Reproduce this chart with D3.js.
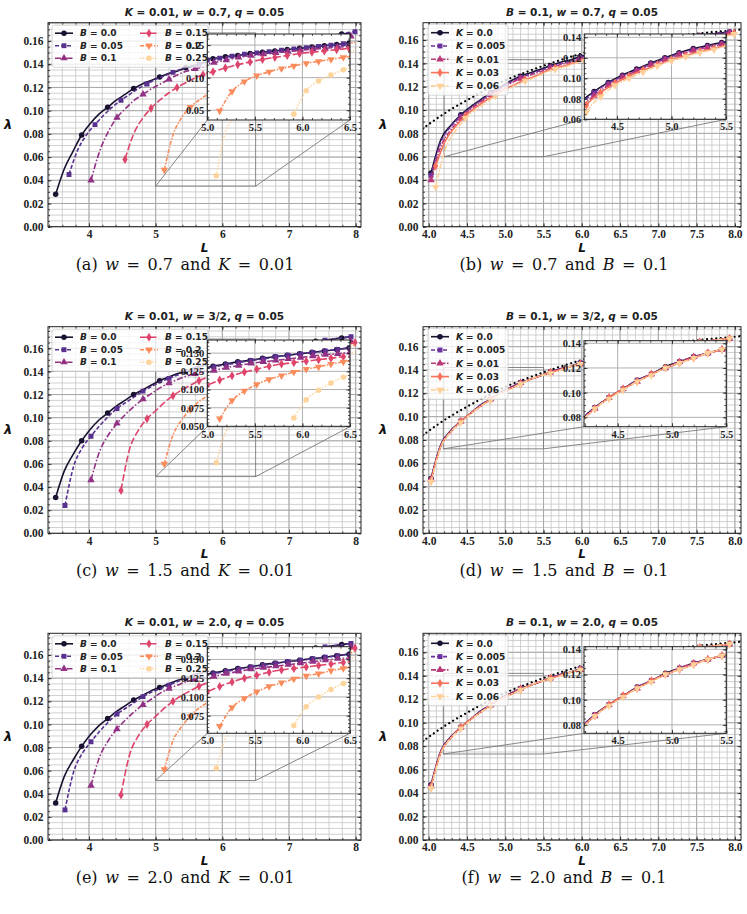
<!DOCTYPE html>
<html>
<head>
<meta charset="utf-8">
<script src="https://cdn.jsdelivr.net/npm/d3@7"></script>
<style>
  body { margin: 0; background: #fff; }
</style>
</head>
<body>
<script>
// ---- sampling grids in L (one per starting point) ----
var gA0  = [3.50,3.63,3.76,3.89,4.02,4.15,4.28,4.41,4.54,4.67,4.80,4.93,5.06,5.19,5.32,5.45,5.58,5.71,5.84,5.97,6.10,6.23,6.36,6.49,6.62,6.75,6.88,7.01,7.14,7.27,7.40,7.53,7.66,7.79,7.92];
var gA05 = [3.70,3.83,3.96,4.09,4.22,4.35,4.48,4.61,4.74,4.87,5.00,5.13,5.26,5.39,5.52,5.65,5.78,5.91,6.04,6.17,6.30,6.43,6.56,6.69,6.82,6.95,7.08,7.21,7.34,7.47,7.60,7.73,7.86,7.99];
var gC05 = [3.64,3.77,3.90,4.03,4.16,4.29,4.42,4.55,4.68,4.81,4.94,5.07,5.20,5.33,5.46,5.59,5.72,5.85,5.98,6.11,6.24,6.37,6.50,6.63,6.76,6.89,7.02,7.15,7.28,7.41,7.54,7.67,7.80,7.93];
var gK   = [4.03,4.16,4.29,4.42,4.55,4.68,4.81,4.94,5.07,5.20,5.33,5.46,5.59,5.72,5.85,5.98,6.11,6.24,6.37,6.50,6.63,6.76,6.89,7.02,7.15,7.28,7.41,7.54,7.67,7.80,7.93];
var gA15 = [4.54,4.67,4.80,4.93,5.06,5.19,5.32,5.45,5.58,5.71,5.84,5.97,6.10,6.23,6.36,6.49,6.62,6.75,6.88,7.01,7.14,7.27,7.40,7.53,7.66,7.79,7.92];
var gC15 = [4.48,4.61,4.74,4.87,5.00,5.13,5.26,5.39,5.52,5.65,5.78,5.91,6.04,6.17,6.30,6.43,6.56,6.69,6.82,6.95,7.08,7.21,7.34,7.47,7.60,7.73,7.86,7.99];
var gB20 = [5.13,5.26,5.39,5.52,5.65,5.78,5.91,6.04,6.17,6.30,6.43,6.56,6.69,6.82,6.95,7.08,7.21,7.34,7.47,7.60,7.73,7.86,7.99];
var gB25 = [5.91,6.04,6.17,6.30,6.43,6.56,6.69,6.82,6.95,7.08,7.21,7.34,7.47,7.60,7.73,7.86,7.99];
var gK03 = [4.09,4.22,4.35,4.48,4.61,4.74,4.87,5.00,5.13,5.26,5.39,5.52,5.65,5.78,5.91,6.04,6.17,6.30,6.43,6.56,6.69,6.82,6.95,7.08,7.21,7.34,7.47,7.60,7.73,7.86,7.99];

// ---- lambda, w = 0.7, K = 0.01 (panel a) ----
var a00 = [0.028,0.050,0.065,0.079,0.089,0.097,0.103,0.109,0.114,0.119,0.123,0.126,0.129,0.132,0.134,0.137,0.139,0.141,0.143,0.145,0.147,0.149,0.151,0.153,0.154,0.156,0.157,0.159,0.160,0.161,0.162,0.164,0.165,0.166,0.167];
var a05 = [0.045,0.066,0.079,0.088,0.096,0.103,0.109,0.114,0.119,0.123,0.127,0.130,0.133,0.136,0.138,0.140,0.142,0.144,0.146,0.148,0.150,0.152,0.153,0.155,0.156,0.158,0.159,0.160,0.162,0.163,0.164,0.165,0.167,0.168];
var a10 = [0.040,0.065,0.082,0.094,0.102,0.109,0.114,0.119,0.123,0.127,0.131,0.134,0.136,0.138,0.140,0.142,0.144,0.145,0.147,0.148,0.150,0.151,0.153,0.154,0.156,0.157,0.158,0.160,0.161,0.163,0.164];
var a15 = [0.058,0.080,0.093,0.102,0.109,0.115,0.120,0.124,0.128,0.131,0.134,0.137,0.139,0.141,0.143,0.145,0.147,0.149,0.150,0.152,0.154,0.155,0.157,0.158,0.160,0.161,0.163];
var a20 = [0.049,0.079,0.094,0.103,0.109,0.114,0.118,0.122,0.125,0.128,0.131,0.134,0.137,0.139,0.142,0.144,0.146,0.148,0.150,0.153,0.155,0.157,0.159];
var a25 = [0.044,0.080,0.095,0.104,0.112,0.118,0.123,0.127,0.131,0.134,0.137,0.140,0.143,0.145,0.148,0.150,0.152];

// ---- w = 3/2, K = 0.01 (panel c) ----
var c00 = [0.031,0.054,0.068,0.080,0.090,0.098,0.104,0.110,0.115,0.120,0.124,0.128,0.132,0.135,0.138,0.140,0.143,0.145,0.147,0.149,0.151,0.153,0.155,0.157,0.158,0.160,0.161,0.162,0.164,0.165,0.166,0.167,0.168,0.169,0.170];
var c05 = [0.024,0.058,0.074,0.084,0.093,0.101,0.108,0.113,0.118,0.123,0.127,0.131,0.134,0.137,0.140,0.142,0.145,0.147,0.149,0.151,0.153,0.155,0.157,0.158,0.160,0.161,0.163,0.164,0.165,0.166,0.167,0.168,0.169,0.170];
var c10 = [0.046,0.071,0.085,0.095,0.103,0.110,0.116,0.121,0.126,0.130,0.133,0.136,0.138,0.140,0.142,0.144,0.146,0.148,0.149,0.151,0.153,0.154,0.156,0.157,0.159,0.160,0.161,0.163,0.164,0.165,0.166];
var c15 = [0.037,0.073,0.089,0.099,0.106,0.113,0.119,0.124,0.128,0.132,0.135,0.137,0.139,0.141,0.143,0.145,0.147,0.149,0.151,0.152,0.154,0.156,0.157,0.159,0.160,0.162,0.163,0.165];
var c20 = [0.060,0.085,0.098,0.107,0.114,0.119,0.124,0.128,0.131,0.135,0.138,0.141,0.143,0.146,0.148,0.150,0.152,0.154,0.156,0.158,0.160,0.161,0.163];
var c25 = [0.061,0.086,0.099,0.109,0.117,0.123,0.128,0.132,0.136,0.139,0.142,0.145,0.148,0.150,0.153,0.155,0.157];

// ---- w = 2.0, K = 0.01 (panel e) ----
var e00 = [0.032,0.055,0.069,0.081,0.091,0.099,0.105,0.111,0.116,0.121,0.125,0.129,0.132,0.135,0.138,0.140,0.143,0.145,0.147,0.149,0.151,0.153,0.155,0.157,0.158,0.160,0.161,0.162,0.163,0.165,0.166,0.167,0.168,0.169,0.170];
var e05 = [0.026,0.059,0.075,0.085,0.094,0.102,0.109,0.114,0.119,0.124,0.128,0.131,0.134,0.137,0.140,0.142,0.145,0.147,0.149,0.151,0.153,0.155,0.157,0.158,0.160,0.161,0.163,0.164,0.165,0.166,0.167,0.168,0.169,0.170];
var e10 = [0.047,0.072,0.086,0.096,0.104,0.111,0.117,0.122,0.127,0.131,0.134,0.137,0.139,0.141,0.143,0.145,0.147,0.149,0.151,0.152,0.154,0.155,0.157,0.158,0.160,0.161,0.162,0.163,0.165,0.166,0.167];
var e15 = [0.039,0.074,0.090,0.100,0.107,0.114,0.120,0.125,0.129,0.133,0.136,0.138,0.140,0.142,0.144,0.146,0.148,0.150,0.152,0.153,0.155,0.157,0.158,0.160,0.161,0.163,0.164,0.166];
var e20 = [0.061,0.086,0.098,0.107,0.114,0.119,0.124,0.128,0.131,0.135,0.138,0.141,0.143,0.146,0.148,0.150,0.152,0.154,0.156,0.158,0.160,0.161,0.163];
var e25 = [0.062,0.087,0.100,0.110,0.118,0.124,0.129,0.133,0.137,0.140,0.143,0.146,0.149,0.151,0.154,0.156,0.158];

// ---- B = 0.1, w = 0.7 (panel b) ----
var b000 = [0.046,0.075,0.087,0.096,0.103,0.109,0.115,0.120,0.125,0.129,0.132,0.135,0.138,0.141,0.143,0.146,0.148,0.150,0.151,0.153,0.155,0.156,0.158,0.159,0.160,0.162,0.163,0.164,0.165,0.166,0.167];
var b005 = [0.044,0.073,0.086,0.095,0.102,0.108,0.114,0.119,0.124,0.128,0.131,0.134,0.137,0.140,0.142,0.145,0.147,0.149,0.151,0.152,0.154,0.156,0.157,0.158,0.160,0.161,0.162,0.164,0.165,0.166,0.167];
var b010 = [0.040,0.069,0.083,0.093,0.101,0.107,0.113,0.118,0.123,0.127,0.130,0.133,0.136,0.139,0.141,0.144,0.146,0.148,0.150,0.151,0.153,0.155,0.156,0.158,0.159,0.160,0.162,0.163,0.164,0.165,0.166];
var b030 = [0.052,0.074,0.086,0.095,0.102,0.108,0.113,0.118,0.122,0.126,0.129,0.133,0.136,0.138,0.141,0.143,0.145,0.147,0.149,0.151,0.152,0.154,0.155,0.157,0.158,0.160,0.161,0.162,0.163,0.164,0.166];
var b060 = [0.034,0.067,0.082,0.093,0.100,0.106,0.112,0.117,0.121,0.125,0.128,0.132,0.135,0.137,0.140,0.142,0.144,0.146,0.148,0.150,0.151,0.153,0.154,0.156,0.157,0.159,0.160,0.161,0.162,0.163,0.165];

// ---- B = 0.1, w = 3/2 and w = 2.0 (panels d, f: curves coincide) ----
var w000 = [0.047,0.076,0.088,0.096,0.103,0.110,0.115,0.121,0.125,0.129,0.132,0.135,0.138,0.141,0.143,0.146,0.148,0.150,0.152,0.153,0.155,0.156,0.158,0.159,0.161,0.162,0.163,0.164,0.165,0.166,0.167];
var w005 = [0.046,0.076,0.088,0.096,0.103,0.110,0.115,0.120,0.125,0.129,0.132,0.135,0.138,0.141,0.143,0.146,0.148,0.150,0.152,0.153,0.155,0.156,0.158,0.159,0.161,0.162,0.163,0.164,0.165,0.166,0.167];
var w010 = [0.046,0.075,0.087,0.096,0.103,0.109,0.115,0.120,0.125,0.129,0.132,0.135,0.138,0.141,0.143,0.145,0.148,0.150,0.151,0.153,0.155,0.156,0.158,0.159,0.160,0.162,0.163,0.164,0.165,0.166,0.167];
var w030 = [0.045,0.075,0.087,0.096,0.103,0.109,0.115,0.120,0.124,0.128,0.132,0.135,0.138,0.140,0.143,0.145,0.147,0.149,0.151,0.153,0.154,0.156,0.157,0.159,0.160,0.161,0.163,0.164,0.165,0.166,0.167];
var w060 = [0.044,0.074,0.087,0.095,0.102,0.109,0.114,0.120,0.124,0.128,0.132,0.135,0.137,0.140,0.143,0.145,0.147,0.149,0.151,0.152,0.154,0.156,0.157,0.158,0.160,0.161,0.162,0.164,0.165,0.166,0.167];

// black dotted reference curve (b, d, f)
var dotL   = [3.92,4.10,4.30,4.50,4.75,5.00,5.25,5.50,5.75,6.00,6.25,6.50,7.00,7.50,8.00,8.08];
var dotLam = [0.084,0.0925,0.101,0.1085,0.1175,0.1255,0.132,0.138,0.1435,0.1485,0.153,0.1565,0.1615,0.1655,0.1685,0.169];

// legend values and tick labels
var bLabels = ["0.0", "0.05", "0.1", "0.15", "0.2", "0.25"];
var kLabels = ["0.0", "0.005", "0.01", "0.03", "0.06"];
var yTicksMain = [0, 0.02, 0.04, 0.06, 0.08, 0.10, 0.12, 0.14, 0.16];
var xTicksB = [4, 5, 6, 7, 8];
var xTicksK = [4.0, 4.5, 5.0, 5.5, 6.0, 6.5, 7.0, 7.5, 8.0];
var xTicksInsetB = [5.0, 5.5, 6.0, 6.5];
var xTicksInsetK = [4.5, 5.0, 5.5];

// ---- styles ----
var styles = {
    B: [
        { color: "#1a1230", dash: null, sym: "circle" },
        { color: "#58308f", dash: "4,2", sym: "square" },
        { color: "#923085", dash: "6,2,1.5,2", sym: "triangle" },
        { color: "#de456c", dash: "7,2.5", sym: "diamond" },
        { color: "#fa8c5c", dash: "4,1.5,1.5,1.5", sym: "down" },
        { color: "#fdd49b", dash: "1.3,1.7", sym: "circle" }
    ],
    K: [
        { color: "#1a1230", dash: null, sym: "circle" },
        { color: "#6b2f9e", dash: "4,2", sym: "square" },
        { color: "#b8387a", dash: "5,1.5,1.5,1.5", sym: "triangle" },
        { color: "#f7735c", dash: null, sym: "diamond" },
        { color: "#fdd09a", dash: "5,1.5,1.5,1.5", sym: "down" }
    ]
};

var serif = "'Liberation Serif', 'DejaVu Serif', serif";
var sans = "'DejaVu Sans', sans-serif";

var width = 747, height = 914;
var svg = d3.select("body").append("svg")
    .attr("width", width)
    .attr("height", height);
var defs = svg.append("defs");

function ticksIn(lo, hi, step) {
    var a = Math.ceil(lo / step - 1e-6), b = Math.floor(hi / step + 1e-6);
    return d3.range(a, b + 1).map(function (i) { return +(i * step).toFixed(6); });
}

function symbolPath(name, size) {
    var t = { circle: d3.symbolCircle, square: d3.symbolSquare, triangle: d3.symbolTriangle,
              diamond: d3.symbolDiamond, down: d3.symbolTriangle }[name];
    return d3.symbol().type(t).size(size)();
}

function drawMarkers(g, pts, st, size) {
    g.selectAll(null).data(pts).join("path")
        .attr("d", symbolPath(st.sym, size))
        .attr("transform", function (d) {
            return "translate(" + d[0] + "," + d[1] + ")" + (st.sym == "down" ? " rotate(180)" : "");
        })
        .attr("fill", st.color);
}

function drawSeries(g, x, y, L, lam, st, every) {
    var pts = d3.zip(L, lam);
    var line = d3.line()
        .x(function (d) { return x(d[0]); })
        .y(function (d) { return y(d[1]); })
        .curve(d3.curveMonotoneX);
    g.append("path").datum(pts)
        .attr("fill", "none")
        .attr("stroke", st.color)
        .attr("stroke-width", 1.6)
        .attr("stroke-dasharray", st.dash)
        .attr("d", line);
    var mk = pts.filter(function (d, i) { return i % every == 0; })
        .map(function (d) { return [x(d[0]), y(d[1])]; });
    drawMarkers(g, mk, st, 24);
}

// ticks pointing inward on all four sides, labels on bottom and left
function drawAxes(g, x, y, box, o) {
    function tidy(sel) {
        sel.select(".domain").remove();
        sel.attr("color", "#222")
            .attr("font-family", serif)
            .attr("font-weight", "bold")
            .attr("font-size", o.fontSize);
        sel.selectAll(".tick line").attr("stroke-width", 0.8);
    }
    var xMin = ticksIn(x.domain()[0], x.domain()[1], o.xMinor);
    var yMin = ticksIn(y.domain()[0], y.domain()[1], o.yMinor);

    g.append("g").attr("transform", "translate(0," + box.bottom + ")")
        .call(d3.axisBottom(x).tickValues(o.xTicks).tickFormat(d3.format(o.xFmt)).tickSize(-3.5).tickPadding(o.padX))
        .call(tidy);
    g.append("g").attr("transform", "translate(0," + box.bottom + ")")
        .call(d3.axisBottom(x).tickValues(xMin).tickFormat("").tickSize(-2)).call(tidy);
    g.append("g").attr("transform", "translate(0," + box.top + ")")
        .call(d3.axisTop(x).tickValues(o.xTicks).tickFormat("").tickSize(-3.5)).call(tidy);
    g.append("g").attr("transform", "translate(0," + box.top + ")")
        .call(d3.axisTop(x).tickValues(xMin).tickFormat("").tickSize(-2)).call(tidy);

    g.append("g").attr("transform", "translate(" + box.left + ",0)")
        .call(d3.axisLeft(y).tickValues(o.yTicks).tickFormat(d3.format(o.yFmt)).tickSize(-3.5).tickPadding(o.padY))
        .call(tidy);
    g.append("g").attr("transform", "translate(" + box.left + ",0)")
        .call(d3.axisLeft(y).tickValues(yMin).tickFormat("").tickSize(-2)).call(tidy);
    g.append("g").attr("transform", "translate(" + box.right + ",0)")
        .call(d3.axisRight(y).tickValues(o.yTicks).tickFormat("").tickSize(-3.5)).call(tidy);
    g.append("g").attr("transform", "translate(" + box.right + ",0)")
        .call(d3.axisRight(y).tickValues(yMin).tickFormat("").tickSize(-2)).call(tidy);

    g.append("rect")
        .attr("x", box.left).attr("y", box.top)
        .attr("width", box.right - box.left).attr("height", box.bottom - box.top)
        .attr("fill", "none").attr("stroke", "#222").attr("stroke-width", 1);
}

function mathText(sel, parts) {
    parts.forEach(function (p) {
        sel.append("tspan").attr("font-style", p[1] ? "italic" : null).text(p[0]);
    });
}

function handle(g, x0, x1, yy, st) {
    g.append("line")
        .attr("x1", x0).attr("x2", x1).attr("y1", yy).attr("y2", yy)
        .attr("stroke", st.color).attr("stroke-width", 1.6)
        .attr("stroke-dasharray", st.dash);
    drawMarkers(g, [[(x0 + x1) / 2, yy]], st, 24);
}

function drawLegend(g, p) {
    var lg = g.append("g");
    var labels = p.kind == "B" ? bLabels : kLabels;
    var lx, ly, bw, bh;
    if (p.kind == "B") { lx = p.left + 4; ly = p.top + 2.5; bw = 156; bh = 42; }
    else { lx = p.left + 5; ly = p.top + 1.5; bw = 80; bh = 71; }
    lg.append("rect")
        .attr("x", lx).attr("y", ly).attr("width", bw).attr("height", bh)
        .attr("rx", 2.5)
        .attr("fill", "#fff").attr("fill-opacity", 0.8)
        .attr("stroke", "#cccccc").attr("stroke-width", 0.8);
    labels.forEach(function (lab, i) {
        var hx, hy;
        if (p.kind == "B") { hx = lx + 3 + Math.floor(i / 3) * 85; hy = ly + 8 + (i % 3) * 12.5; }
        else { hx = lx + 3; hy = ly + 8.5 + i * 13.3; }
        handle(lg, hx, hx + 18, hy, styles[p.kind][i]);
        var t = lg.append("text")
            .attr("x", hx + 25).attr("y", hy + 3.2)
            .attr("font-family", sans).attr("font-weight", "bold").attr("font-size", 9)
            .attr("fill", "#222");
        mathText(t, [[p.kind, true], [" = " + lab, false]]);
    });
}

function drawPanel(p) {
    var x = d3.scaleLinear().domain(p.xDom).range([p.left, p.right]);
    var y = d3.scaleLinear().domain([0, p.yMax]).range([p.bottom, p.top]);
    var g = svg.append("g");

    defs.append("clipPath").attr("id", "clip" + p.id).append("rect")
        .attr("x", p.left).attr("y", p.top)
        .attr("width", p.right - p.left).attr("height", p.bottom - p.top);

    // grid (minor then major)
    var grid = g.append("g");
    grid.selectAll(null).data(ticksIn(p.xDom[0], p.xDom[1], p.xMinor)).join("line")
        .attr("x1", x).attr("x2", x).attr("y1", p.top).attr("y2", p.bottom)
        .attr("stroke", "#c2c2c2").attr("stroke-width", 0.75);
    grid.selectAll(null).data(ticksIn(0, p.yMax, 0.005)).join("line")
        .attr("y1", y).attr("y2", y).attr("x1", p.left).attr("x2", p.right)
        .attr("stroke", "#c2c2c2").attr("stroke-width", 0.75);
    grid.selectAll(null).data(p.xTicks).join("line")
        .attr("x1", x).attr("x2", x).attr("y1", p.top).attr("y2", p.bottom)
        .attr("stroke", "#a8a8a8").attr("stroke-width", 1);
    grid.selectAll(null).data(yTicksMain).join("line")
        .attr("y1", y).attr("y2", y).attr("x1", p.left).attr("x2", p.right)
        .attr("stroke", "#a8a8a8").attr("stroke-width", 1);

    // zoom marker: rectangle + connectors to the inset
    var ins = p.inset;
    var rx0 = x(ins.xDom[0]), rx1 = x(ins.xDom[1]), ry0 = y(ins.yDom[0]), ry1 = y(ins.yDom[1]);
    var mk = g.append("g").attr("stroke", "#7a7a7a").attr("stroke-width", 0.9).attr("fill", "none");
    mk.append("rect").attr("x", rx0).attr("y", ry1).attr("width", rx1 - rx0).attr("height", ry0 - ry1);
    mk.append("line").attr("x1", ins.left).attr("y1", ins.bottom).attr("x2", rx0).attr("y2", ry0);
    mk.append("line").attr("x1", ins.right).attr("y1", ins.bottom).attr("x2", rx1).attr("y2", ry0);

    var plot = g.append("g").attr("clip-path", "url(#clip" + p.id + ")");
    if (p.dotted) {
        plot.append("path").datum(d3.zip(dotL, dotLam))
            .attr("fill", "none").attr("stroke", "#000").attr("stroke-width", 2.2)
            .attr("stroke-linecap", "round").attr("stroke-dasharray", "0.01,4.6")
            .attr("d", d3.line().x(function (d) { return x(d[0]); }).y(function (d) { return y(d[1]); })
                .curve(d3.curveMonotoneX));
    }
    p.series.forEach(function (s, i) {
        drawSeries(plot, x, y, s[0], s[1], styles[p.kind][i], 3);
    });

    drawAxes(g, x, y, p, {
        xTicks: p.xTicks, xFmt: p.xFmt, xMinor: p.xMinor,
        yTicks: yTicksMain, yFmt: ".2f", yMinor: 0.005,
        fontSize: 11.5, padX: 3.3, padY: 4.5
    });

    drawLegend(g, p);

    // inset
    var xi = d3.scaleLinear().domain(ins.xDom).range([ins.left, ins.right]);
    var yi = d3.scaleLinear().domain(ins.yDom).range([ins.bottom, ins.top]);
    defs.append("clipPath").attr("id", "iclip" + p.id).append("rect")
        .attr("x", ins.left).attr("y", ins.top)
        .attr("width", ins.right - ins.left).attr("height", ins.bottom - ins.top);
    var ig = g.append("g");
    ig.append("rect")
        .attr("x", ins.left).attr("y", ins.top)
        .attr("width", ins.right - ins.left).attr("height", ins.bottom - ins.top)
        .attr("fill", "#fff");
    ig.selectAll(null).data(ins.xTicks).join("line")
        .attr("x1", xi).attr("x2", xi).attr("y1", ins.top).attr("y2", ins.bottom)
        .attr("stroke", "#b0b0b0").attr("stroke-width", 1);
    ig.selectAll(null).data(ins.yTicks).join("line")
        .attr("y1", yi).attr("y2", yi).attr("x1", ins.left).attr("x2", ins.right)
        .attr("stroke", "#b0b0b0").attr("stroke-width", 1);
    var iplot = ig.append("g").attr("clip-path", "url(#iclip" + p.id + ")");
    p.series.forEach(function (s, i) {
        drawSeries(iplot, xi, yi, s[0], s[1], styles[p.kind][i], 1);
    });
    drawAxes(ig, xi, yi, ins, {
        xTicks: ins.xTicks, xFmt: ".1f", xMinor: 0.1,
        yTicks: ins.yTicks, yFmt: ins.yFmt, yMinor: ins.yMinor,
        fontSize: 10.5, padX: 3.5, padY: 3
    });

    // labels
    var cx = (p.left + p.right) / 2;
    var title = g.append("text")
        .attr("x", cx).attr("y", p.top - 7)
        .attr("text-anchor", "middle")
        .attr("font-family", sans).attr("font-weight", "bold").attr("font-size", 10.5)
        .attr("fill", "#222");
    mathText(title, p.title);

    g.append("text")
        .attr("x", cx).attr("y", p.bottom + 25)
        .attr("text-anchor", "middle")
        .attr("font-family", sans).attr("font-weight", "bold").attr("font-style", "italic")
        .attr("font-size", 12).attr("fill", "#111")
        .text("L");

    g.append("text")
        .attr("x", p.left - 40).attr("y", (p.top + p.bottom) / 2 + 4)
        .attr("text-anchor", "middle")
        .attr("font-family", sans).attr("font-weight", "bold").attr("font-style", "italic")
        .attr("font-size", 13).attr("fill", "#111")
        .text("λ");

    var cap = g.append("text")
        .attr("x", p.capX).attr("y", p.bottom + 43)
        .attr("text-anchor", "middle")
        .attr("font-family", "'DejaVu Serif', serif").attr("font-size", 16)
        .attr("word-spacing", 2.5)
        .attr("fill", "#111");
    mathText(cap, p.caption);
}

var insetB = { xDom: [5.0, 6.5], xTicks: xTicksInsetB };
var insetK = { xDom: [4.2, 5.5], xTicks: xTicksInsetK };

var panels = [
    {
        id: "a", kind: "B", left: 48, right: 361, top: 22.7, bottom: 226.7,
        xDom: [3.385, 8.08], yMax: 0.1758, xTicks: xTicksB, xFmt: "d", xMinor: 0.2,
        series: [[gA0, a00], [gA05, a05], [gK, a10], [gA15, a15], [gB20, a20], [gB25, a25]],
        inset: Object.assign({ left: 207.3, top: 34, right: 350, bottom: 120, yDom: [0.035, 0.167],
            yTicks: [0.05, 0.10, 0.15], yFmt: ".2f", yMinor: 0.01 }, insetB),
        title: [["K", true], [" = 0.01, ", false], ["w", true], [" = 0.7, ", false], ["q", true], [" = 0.05", false]],
        caption: [["(a) ", false], ["w", true], [" = 0.7 and ", false], ["K", true], [" = 0.01", false]],
        capX: 185
    },
    {
        id: "b", kind: "K", left: 423, right: 741, top: 22.7, bottom: 226.7, dotted: true,
        xDom: [3.925, 8.08], yMax: 0.1749, xTicks: xTicksK, xFmt: ".1f", xMinor: 0.1,
        series: [[gK, b000], [gK, b005], [gK, b010], [gK03, b030], [gK03, b060]],
        inset: Object.assign({ left: 584.3, top: 34, right: 726, bottom: 119.3, yDom: [0.06, 0.1432],
            yTicks: [0.06, 0.08, 0.10, 0.12, 0.14], yFmt: ".2f", yMinor: 0.005 }, insetK),
        title: [["B", true], [" = 0.1, ", false], ["w", true], [" = 0.7, ", false], ["q", true], [" = 0.05", false]],
        caption: [["(b) ", false], ["w", true], [" = 0.7 and ", false], ["B", true], [" = 0.1", false]],
        capX: 564
    },
    {
        id: "c", kind: "B", left: 48, right: 361, top: 326.7, bottom: 533.3,
        xDom: [3.385, 8.08], yMax: 0.1787, xTicks: xTicksB, xFmt: "d", xMinor: 0.2,
        series: [[gA0, c00], [gC05, c05], [gK, c10], [gC15, c15], [gB20, c20], [gB25, c25]],
        inset: Object.assign({ left: 207.3, top: 340, right: 350, bottom: 426.7, yDom: [0.049, 0.168],
            yTicks: [0.05, 0.075, 0.10, 0.125, 0.15], yFmt: ".3f", yMinor: 0.005 }, insetB),
        title: [["K", true], [" = 0.01, ", false], ["w", true], [" = 3/2, ", false], ["q", true], [" = 0.05", false]],
        caption: [["(c) ", false], ["w", true], [" = 1.5 and ", false], ["K", true], [" = 0.01", false]],
        capX: 185
    },
    {
        id: "d", kind: "K", left: 423, right: 741, top: 326.7, bottom: 533.3, dotted: true,
        xDom: [3.925, 8.08], yMax: 0.1771, xTicks: xTicksK, xFmt: ".1f", xMinor: 0.1,
        series: [[gK, w000], [gK, w005], [gK, w010], [gK, w030], [gK, w060]],
        inset: Object.assign({ left: 584, top: 340.7, right: 726.3, bottom: 426.7, yDom: [0.0724, 0.1421],
            yTicks: [0.08, 0.10, 0.12, 0.14], yFmt: ".2f", yMinor: 0.005 }, insetK, { xDom: [4.19, 5.5] }),
        title: [["B", true], [" = 0.1, ", false], ["w", true], [" = 3/2, ", false], ["q", true], [" = 0.05", false]],
        caption: [["(d) ", false], ["w", true], [" = 1.5 and ", false], ["B", true], [" = 0.1", false]],
        capX: 564
    },
    {
        id: "e", kind: "B", left: 48, right: 361, top: 633.3, bottom: 840,
        xDom: [3.385, 8.08], yMax: 0.1788, xTicks: xTicksB, xFmt: "d", xMinor: 0.2,
        series: [[gA0, e00], [gC05, e05], [gK, e10], [gC15, e15], [gB20, e20], [gB25, e25]],
        inset: Object.assign({ left: 207.3, top: 646.7, right: 350, bottom: 733.3, yDom: [0.0515, 0.167],
            yTicks: [0.075, 0.10, 0.125, 0.15], yFmt: ".3f", yMinor: 0.005 }, insetB),
        title: [["K", true], [" = 0.01, ", false], ["w", true], [" = 2.0, ", false], ["q", true], [" = 0.05", false]],
        caption: [["(e) ", false], ["w", true], [" = 2.0 and ", false], ["K", true], [" = 0.01", false]],
        capX: 185
    },
    {
        id: "f", kind: "K", left: 423, right: 741, top: 633.3, bottom: 840, dotted: true,
        xDom: [3.925, 8.08], yMax: 0.1762, xTicks: xTicksK, xFmt: ".1f", xMinor: 0.1,
        series: [[gK, w000], [gK, w005], [gK, w010], [gK, w030], [gK, w060]],
        inset: Object.assign({ left: 584, top: 646.7, right: 726.3, bottom: 733.3, yDom: [0.0733, 0.1421],
            yTicks: [0.08, 0.10, 0.12, 0.14], yFmt: ".2f", yMinor: 0.005 }, insetK, { xDom: [4.19, 5.5] }),
        title: [["B", true], [" = 0.1, ", false], ["w", true], [" = 2.0, ", false], ["q", true], [" = 0.05", false]],
        caption: [["(f) ", false], ["w", true], [" = 2.0 and ", false], ["B", true], [" = 0.1", false]],
        capX: 564
    }
];

panels.forEach(drawPanel);
</script>
</body>
</html>
